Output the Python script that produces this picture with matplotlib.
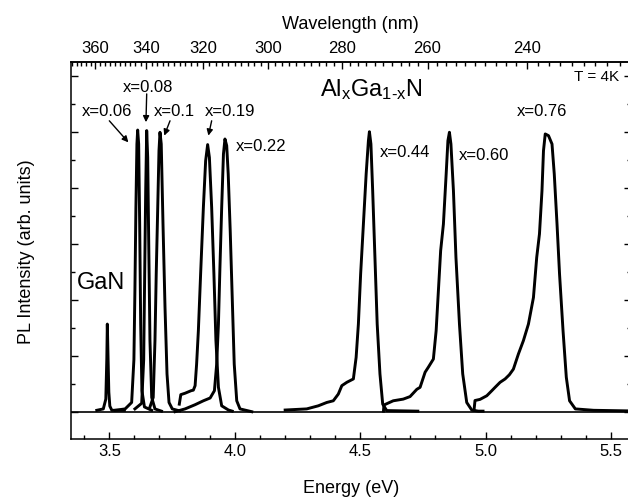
import numpy as np
import matplotlib
matplotlib.use('Agg')
import matplotlib.pyplot as plt
from matplotlib.ticker import MultipleLocator, FixedLocator

# =========================
# 1. Data
# =========================

gan_e = [3.450, 3.476, 3.486, 3.490, 3.492, 3.495, 3.498, 3.502, 3.510, 3.560]
gan_i = [0.05, 0.10, 0.45, 1.90, 3.13, 1.90, 0.70, 0.20, 0.05, 0.05]

x006_e = [3.523, 3.563, 3.589, 3.598, 3.602, 3.606, 3.610, 3.613, 3.617, 3.621, 3.625, 3.630, 3.640, 3.669]
x006_i = [0.05, 0.10, 0.33, 1.86, 4.32, 7.30, 9.56, 10.06, 9.56, 6.70, 3.13, 0.75, 0.17, 0.05]

x008_e = [3.602, 3.629, 3.637, 3.641, 3.645, 3.649, 3.653, 3.657, 3.662, 3.669, 3.682, 3.708]
x008_i = [0.10, 0.30, 1.86, 4.92, 7.89, 10.04, 9.08, 6.11, 2.54, 0.51, 0.10, 0.02]

x010_e = [3.662, 3.675, 3.682, 3.687, 3.693, 3.698, 3.702, 3.707, 3.714, 3.722, 3.730, 3.738, 3.751, 3.780]
x010_i = [0.17, 0.51, 2.54, 4.92, 7.30, 9.32, 9.98, 9.56, 6.70, 3.73, 1.35, 0.33, 0.10, 0.03]

x019_e = [3.779, 3.785, 3.802, 3.826, 3.835, 3.842, 3.848, 3.855, 3.864, 3.875, 3.884, 3.892,
          3.899, 3.908, 3.917, 3.925, 3.935, 3.948, 3.975, 3.990]
x019_i = [0.27, 0.61, 0.66, 0.75, 0.77, 0.93, 1.70, 2.89, 4.92, 7.30, 8.96, 9.54,
          9.08, 7.30, 4.92, 2.54, 0.87, 0.21, 0.06, 0.02]

x022_e = [3.762, 3.802, 3.842, 3.875, 3.902, 3.919, 3.928, 3.935, 3.941, 3.948, 3.955, 3.961,
          3.968, 3.974, 3.982, 3.990, 3.998, 4.008, 4.021, 4.068]
x022_i = [0.00, 0.10, 0.25, 0.39, 0.49, 0.75, 1.70, 3.13, 5.15, 7.30, 9.20, 9.74,
          9.50, 8.49, 6.46, 4.08, 1.70, 0.39, 0.10, 0.00]

x044_e = [4.201, 4.287, 4.333, 4.367, 4.393, 4.413, 4.427, 4.447, 4.473, 4.484, 4.493, 4.502,
          4.513, 4.524, 4.533, 4.537, 4.543, 4.550, 4.559, 4.568, 4.579, 4.590, 4.606, 4.730]
x044_i = [0.06, 0.10, 0.21, 0.33, 0.39, 0.63, 0.93, 1.05, 1.17, 1.94, 3.13, 4.92,
          6.70, 8.49, 9.68, 10.00, 9.56, 7.89, 5.51, 3.13, 1.35, 0.27, 0.04, 0.02]

x060_e = [4.593, 4.595, 4.632, 4.672, 4.699, 4.726, 4.739, 4.759, 4.772, 4.792, 4.803, 4.812,
          4.821, 4.832, 4.843, 4.850, 4.856, 4.862, 4.872, 4.882, 4.896, 4.909, 4.925, 4.945,
          4.971, 4.990]
x060_i = [0.02, 0.24, 0.39, 0.45, 0.54, 0.80, 0.87, 1.41, 1.59, 1.88, 2.89, 4.32,
          5.75, 6.70, 8.49, 9.68, 9.98, 9.56, 7.89, 5.51, 3.13, 1.35, 0.33, 0.06,
          0.02, 0.02]

x076_e = [4.954, 4.958, 4.978, 5.005, 5.025, 5.038, 5.058, 5.078, 5.095, 5.111, 5.131, 5.151,
          5.171, 5.191, 5.204, 5.215, 5.225, 5.231, 5.238, 5.251, 5.265, 5.274, 5.285, 5.295,
          5.309, 5.322, 5.335, 5.358, 5.431, 5.563]
x076_i = [0.05, 0.40, 0.44, 0.57, 0.75, 0.87, 1.05, 1.17, 1.32, 1.52, 2.06, 2.54,
          3.13, 4.08, 5.51, 6.35, 7.89, 9.32, 9.92, 9.86, 9.56, 8.49, 6.70, 4.92,
          2.89, 1.23, 0.39, 0.10, 0.05, 0.03]

spectra = [
    (gan_e, gan_i), (x006_e, x006_i), (x008_e, x008_i), (x010_e, x010_i),
    (x019_e, x019_i), (x022_e, x022_i), (x044_e, x044_i), (x060_e, x060_i),
    (x076_e, x076_i),
]

wl_major = [240, 260, 280, 300, 320, 340, 360]

# =========================
# 2. Style
# =========================

plt.rcParams['font.family'] = ['Liberation Sans', 'DejaVu Sans']
plt.rcParams['mathtext.default'] = 'regular'
plt.rcParams['axes.linewidth'] = 1.1

fig = plt.figure(figsize=(6.28, 5.02), dpi=100)
ax = fig.add_axes([0.1131, 0.1245, 0.8909, 0.75])

for e, i in spectra:
    ax.plot(e, i, color='black', lw=2.1, solid_joinstyle='round')

ax.axhline(0, color='black', lw=1.2)

ax.set_xlim(3.3473, 5.578)
ax.set_ylim(-0.957, 12.49)

ax.xaxis.set_major_locator(MultipleLocator(0.5))
ax.xaxis.set_minor_locator(MultipleLocator(0.1))
ax.yaxis.set_major_locator(MultipleLocator(2))
ax.yaxis.set_minor_locator(MultipleLocator(1))
ax.tick_params(which='both', direction='in', top=False, right=True, labelleft=False,
               labelsize=12, width=1.0, pad=3)
ax.tick_params(which='major', length=5)
ax.tick_params(which='minor', length=3)
ax.xaxis.set_major_formatter(plt.FormatStrFormatter('%.1f'))

ax.set_xlabel('Energy (eV)', fontsize=13, labelpad=15)
ax.set_ylabel('PL Intensity (arb. units)', fontsize=13, labelpad=26)

# wavelength axis on top
def e2w(x):
    x = np.asarray(x, dtype=float)
    return 1239.84 / np.where(x == 0, 1e-9, x)

sec = ax.secondary_xaxis('top', functions=(e2w, e2w))
sec.xaxis.set_major_locator(FixedLocator(wl_major))
sec.xaxis.set_minor_locator(FixedLocator(np.arange(224, 372, 2)))
sec.tick_params(which='both', direction='in', labelsize=12, width=1.0, pad=5)
sec.tick_params(which='major', length=5)
sec.tick_params(which='minor', length=3)
sec.set_xlabel('Wavelength (nm)', fontsize=13, labelpad=9)

# =========================
# 3. Labels
# =========================

arrow = dict(arrowstyle='-|>', color='black', lw=1.0, mutation_scale=9, shrinkA=0, shrinkB=0)

ax.text(3.491, 10.74, 'x=0.06', fontsize=12, ha='center', va='center')
ax.annotate('', xy=(3.576, 9.62), xytext=(3.500, 10.39), arrowprops=arrow)
ax.text(3.654, 11.63, 'x=0.08', fontsize=12, ha='center', va='center')
ax.annotate('', xy=(3.646, 10.34), xytext=(3.649, 11.35), arrowprops=arrow)
ax.text(3.758, 10.74, 'x=0.1', fontsize=12, ha='center', va='center')
ax.annotate('', xy=(3.719, 9.86), xytext=(3.742, 10.39), arrowprops=arrow)
ax.text(3.982, 10.74, 'x=0.19', fontsize=12, ha='center', va='center')
ax.annotate('', xy=(3.895, 9.86), xytext=(3.908, 10.39), arrowprops=arrow)

ax.text(4.005, 9.49, 'x=0.22', fontsize=12, ha='left', va='center')
ax.text(4.579, 9.31, 'x=0.44', fontsize=12, ha='left', va='center')
ax.text(4.894, 9.17, 'x=0.60', fontsize=12, ha='left', va='center')
ax.text(5.126, 10.74, 'x=0.76', fontsize=12, ha='left', va='center')

ax.text(5.352, 11.99, 'T = 4K', fontsize=11, ha='left', va='center')
ax.text(4.340, 11.53, 'Al$_x$Ga$_{1\u2010x}$N', fontsize=17, ha='left', va='center')
ax.text(3.371, 4.63, 'GaN', fontsize=17, ha='left', va='center')

plt.savefig('out.png', dpi=100)
